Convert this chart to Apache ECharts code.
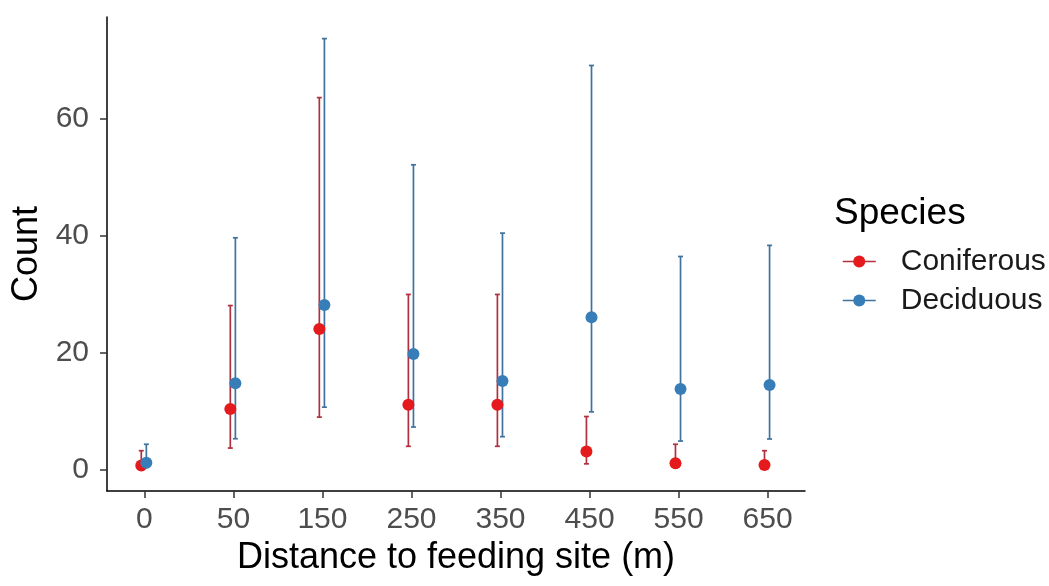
<!DOCTYPE html>
<html>
<head>
<meta charset="utf-8">
<script src="https://cdn.jsdelivr.net/npm/echarts@6/dist/echarts.min.js"></script>
<style>
html,body{margin:0;padding:0;background:#fff;}
#chart{width:1049px;height:586px;}
</style>
</head>
<body>
<div id="chart"></div>
<script>
const categories = ['0', '50', '150', '250', '350', '450', '550', '650'];
const seriesNames = ['Coniferous', 'Deciduous'];
const coniferousMean  = [0.7, 10.4, 24.1, 11.1, 11.1, 3.1, 1.1, 0.8];
const coniferousLower = [0.1, 3.7, 9.0, 4.0, 4.0, 1.0, 0.3, 0.2];
const coniferousUpper = [3.25, 28.1, 63.7, 30.0, 30.0, 9.1, 4.35, 3.25];
const deciduousMean  = [1.2, 14.8, 28.2, 19.8, 15.2, 26.1, 13.8, 14.5];
const deciduousLower = [0.4, 5.3, 10.7, 7.3, 5.65, 9.9, 4.9, 5.25];
const deciduousUpper = [4.35, 39.7, 73.8, 52.2, 40.5, 69.2, 36.5, 38.4];
const yTicks = [0, 20, 40, 60];

const colors = ['#E41A1C', '#377EB8'];
const barColors = ['#B0303F', '#3F729C'];
const dodge = [-0.035, 0.022];
const FONT = 'Arial, "Liberation Sans", sans-serif';

function errSeries(name, lower, upper, off, color) {
  return {
    type: 'custom',
    name: name + ' err',
    z: 2,
    silent: true,
    data: categories.map((c, i) => [i + off, lower[i], upper[i]]),
    encode: { x: 0, y: [1, 2] },
    renderItem: function (params, api) {
      const x = api.value(0);
      const lo = api.coord([x, api.value(1)]);
      const hi = api.coord([x, api.value(2)]);
      const w = 2.5;
      const st = { stroke: color, lineWidth: 1.7 };
      return {
        type: 'group',
        children: [
          { type: 'line', shape: { x1: lo[0], y1: lo[1], x2: hi[0], y2: hi[1] }, style: st },
          { type: 'line', shape: { x1: hi[0] - w, y1: hi[1], x2: hi[0] + w, y2: hi[1] }, style: st },
          { type: 'line', shape: { x1: lo[0] - w, y1: lo[1], x2: lo[0] + w, y2: lo[1] }, style: st }
        ]
      };
    }
  };
}

function pointSeries(name, mean, off, color, lineColor) {
  return {
    type: 'line',
    name: name,
    z: 3,
    data: categories.map((c, i) => [i + off, mean[i]]),
    symbol: 'circle',
    symbolSize: 12,
    showSymbol: true,
    lineStyle: { opacity: 0, color: lineColor, width: 1.5 },
    itemStyle: { color: color },
    emphasis: { disabled: true }
  };
}

const chart = echarts.init(document.getElementById('chart'), null, { renderer: 'canvas' });
chart.setOption({
  animation: false,
  backgroundColor: '#ffffff',
  textStyle: { fontFamily: FONT },
  title: {
    text: 'Species',
    left: 834,
    top: 195,
    padding: 0,
    textStyle: { fontFamily: FONT, fontSize: 37, fontWeight: 'normal', color: '#000' }
  },
  legend: {
    orient: 'vertical',
    left: 842,
    top: 246,
    padding: 0,
    itemWidth: 33,
    itemHeight: 15,
    itemGap: 8,
    data: seriesNames,
    lineStyle: { opacity: 1, width: 1.5 },
    textStyle: { fontFamily: FONT, fontSize: 30, color: '#1a1a1a', lineHeight: 31, padding: [0, 0, 0, 20] },
    selectedMode: false
  },
  grid: { left: 107, right: 244, top: 17, bottom: 95, containLabel: false },
  xAxis: {
    type: 'value',
    min: -0.42,
    max: 7.42,
    name: 'Distance to feeding site (m)',
    nameLocation: 'middle',
    nameGap: 41,
    nameTextStyle: { fontFamily: FONT, fontSize: 36, color: '#000' },
    axisLine: { show: true, onZero: false, lineStyle: { color: '#000', width: 1.5 } },
    axisTick: { show: true, length: 7, customValues: categories.map((c, i) => i), lineStyle: { color: '#333', width: 1.5 } },
    axisLabel: {
      customValues: categories.map((c, i) => i),
      formatter: v => categories[Math.round(v)],
      fontFamily: FONT, fontSize: 30, color: '#4D4D4D', margin: 14
    },
    splitLine: { show: false }
  },
  yAxis: {
    type: 'value',
    min: -3.65,
    max: 77.5,
    name: 'Count',
    nameLocation: 'middle',
    nameGap: 58,
    nameRotate: 90,
    nameTextStyle: { fontFamily: FONT, fontSize: 36, color: '#000' },
    axisLine: { show: true, onZero: false, lineStyle: { color: '#000', width: 1.5 } },
    axisTick: { show: true, length: 7, customValues: yTicks, lineStyle: { color: '#333', width: 1.5 } },
    axisLabel: {
      customValues: yTicks,
      fontFamily: FONT, fontSize: 30, color: '#4D4D4D', margin: 18
    },
    splitLine: { show: false }
  },
  series: [
    errSeries('Coniferous', coniferousLower, coniferousUpper, dodge[0], barColors[0]),
    errSeries('Deciduous', deciduousLower, deciduousUpper, dodge[1], barColors[1]),
    pointSeries('Coniferous', coniferousMean, dodge[0], colors[0], barColors[0]),
    pointSeries('Deciduous', deciduousMean, dodge[1], colors[1], barColors[1])
  ]
});
</script>
</body>
</html>
